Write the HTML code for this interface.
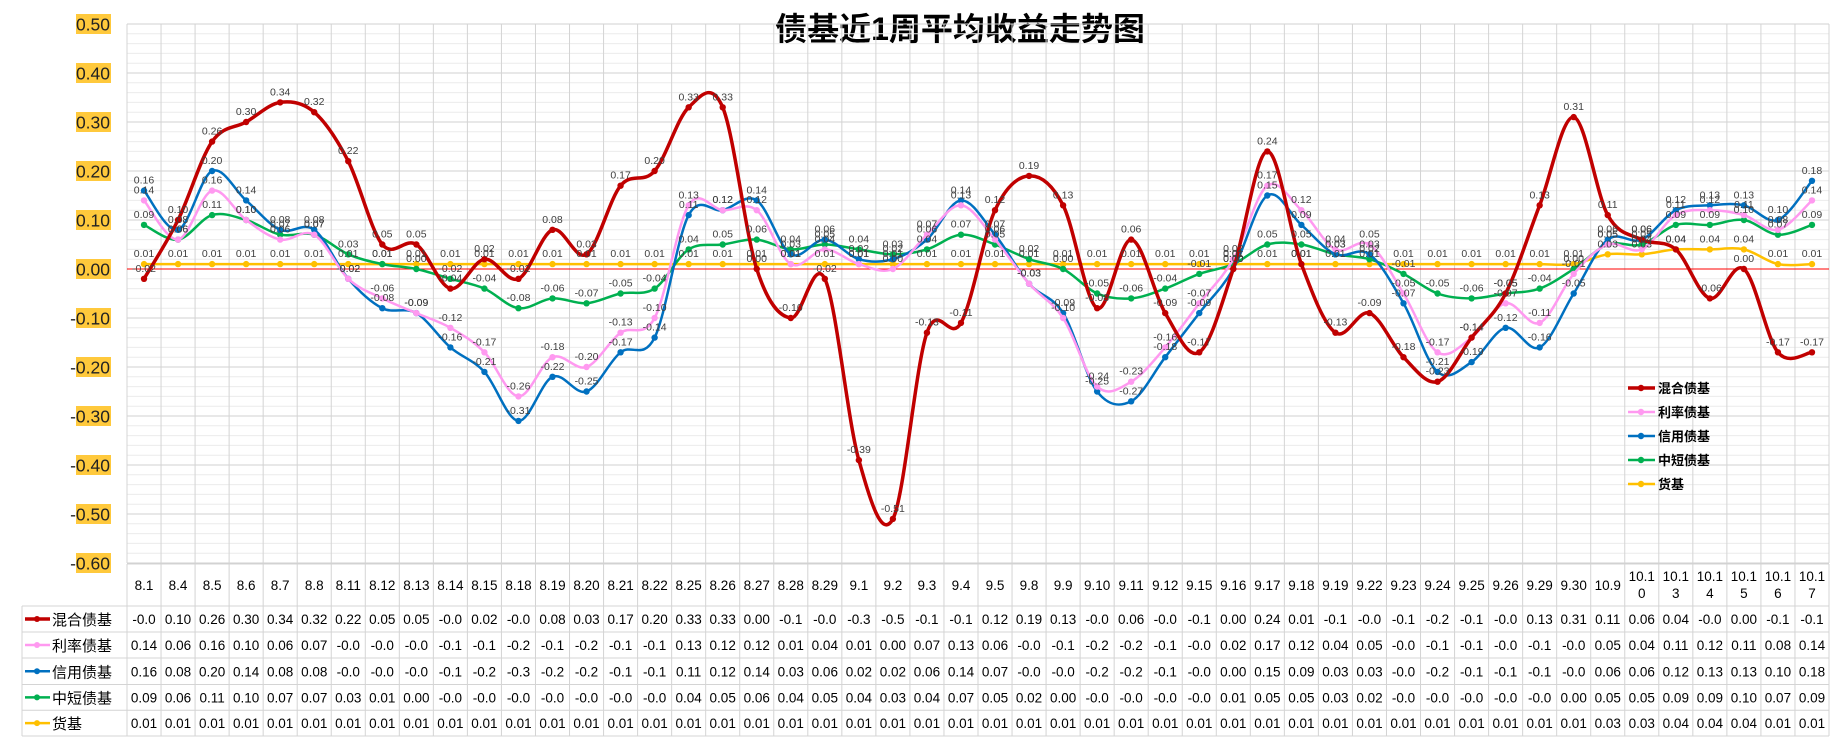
<!DOCTYPE html>
<html><head><meta charset="utf-8">
<style>
body{margin:0;background:#fff;}
svg{display:block;font-family:"Liberation Sans","Noto Sans CJK SC",sans-serif;}
</style></head>
<body>
<svg id="chart" width="1837" height="743" viewBox="0 0 1837 743" xmlns="http://www.w3.org/2000/svg">
<rect width="1837" height="743" fill="#fff"/>
<text x="960" y="40" text-anchor="middle" font-size="32" font-weight="bold" fill="#000" font-family="'Liberation Sans','Noto Sans CJK SC',sans-serif">债基近1周平均收益走势图</text>
<g id="grid"></g><g id="yaxis"></g><g id="series"></g><g id="labels"></g><g id="legend"></g><g id="table"></g>
</svg>
<script>
const categories=["8.1","8.4","8.5","8.6","8.7","8.8","8.11","8.12","8.13","8.14","8.15","8.18","8.19","8.20","8.21","8.22","8.25","8.26","8.27","8.28","8.29","9.1","9.2","9.3","9.4","9.5","9.8","9.9","9.10","9.11","9.12","9.15","9.16","9.17","9.18","9.19","9.22","9.23","9.24","9.25","9.26","9.29","9.30","10.9","10.10","10.13","10.14","10.15","10.16","10.17"];
const seriesNames=["混合债基","利率债基","信用债基","中短债基","货基"];
const mixedVals=[-0.02,0.10,0.26,0.30,0.34,0.32,0.22,0.05,0.05,-0.04,0.02,-0.02,0.08,0.03,0.17,0.20,0.33,0.33,0.00,-0.10,-0.02,-0.39,-0.51,-0.13,-0.11,0.12,0.19,0.13,-0.08,0.06,-0.09,-0.17,0.00,0.24,0.01,-0.13,-0.09,-0.18,-0.23,-0.14,-0.05,0.13,0.31,0.11,0.06,0.04,-0.06,0.00,-0.17,-0.17];
const rateVals=[0.14,0.06,0.16,0.10,0.06,0.07,-0.02,-0.06,-0.09,-0.12,-0.17,-0.26,-0.18,-0.20,-0.13,-0.10,0.13,0.12,0.12,0.01,0.04,0.01,0.00,0.07,0.13,0.06,-0.03,-0.10,-0.24,-0.23,-0.16,-0.07,0.02,0.17,0.12,0.04,0.05,-0.05,-0.17,-0.14,-0.07,-0.11,-0.01,0.05,0.04,0.11,0.12,0.11,0.08,0.14];
const creditVals=[0.16,0.08,0.20,0.14,0.08,0.08,-0.02,-0.08,-0.09,-0.16,-0.21,-0.31,-0.22,-0.25,-0.17,-0.14,0.11,0.12,0.14,0.03,0.06,0.02,0.02,0.06,0.14,0.07,-0.03,-0.09,-0.25,-0.27,-0.18,-0.09,0.00,0.15,0.09,0.03,0.03,-0.07,-0.21,-0.19,-0.12,-0.16,-0.05,0.06,0.06,0.12,0.13,0.13,0.10,0.18];
const shortVals=[0.09,0.06,0.11,0.10,0.07,0.07,0.03,0.01,0.00,-0.02,-0.04,-0.08,-0.06,-0.07,-0.05,-0.04,0.04,0.05,0.06,0.04,0.05,0.04,0.03,0.04,0.07,0.05,0.02,0.00,-0.05,-0.06,-0.04,-0.01,0.01,0.05,0.05,0.03,0.02,-0.01,-0.05,-0.06,-0.05,-0.04,0.00,0.05,0.05,0.09,0.09,0.10,0.07,0.09];
const moneyVals=[0.01,0.01,0.01,0.01,0.01,0.01,0.01,0.01,0.01,0.01,0.01,0.01,0.01,0.01,0.01,0.01,0.01,0.01,0.01,0.01,0.01,0.01,0.01,0.01,0.01,0.01,0.01,0.01,0.01,0.01,0.01,0.01,0.01,0.01,0.01,0.01,0.01,0.01,0.01,0.01,0.01,0.01,0.01,0.03,0.03,0.04,0.04,0.04,0.01,0.01];
const yTicks=[0.5,0.4,0.3,0.2,0.1,0,-0.1,-0.2,-0.3,-0.4,-0.5,-0.6];

const NS="http://www.w3.org/2000/svg";
const X0=127,CW=34.04,Y0=269,PPU=490,YTOP=24,YBOT=563;
const xOf=i=>X0+CW*(i+0.5);
const yOf=v=>Y0-v*PPU;
function mk(tag,attrs,parent,txt){const e=document.createElementNS(NS,tag);for(const k in attrs)e.setAttribute(k,attrs[k]);if(txt!==undefined)e.textContent=txt;parent.appendChild(e);return e;}
const grid=document.getElementById('grid');
for(let k=0;k<=55;k++){const v=0.5-k*0.02;const y=yOf(v);
 const major=k%5===0;
 mk('line',{x1:X0,x2:1829,y1:y,y2:y,stroke:major?'#d0d0d0':'#ececec','stroke-width':1},grid);}
for(let i=0;i<=categories.length;i++){const x=X0+CW*i;mk('line',{x1:x,x2:x,y1:YTOP,y2:YBOT,stroke:'#d4d4d4','stroke-width':1},grid);}
const zl=mk('line',{x1:X0,x2:1829,y1:Y0,y2:Y0,stroke:'#ff0000','stroke-width':1},grid);


const ya=document.getElementById('yaxis');
yTicks.forEach(v=>{const y=yOf(v);
 mk('rect',{x:76,y:y-10,width:35,height:20,fill:'#ffc93c'},ya);
 const t=mk('text',{x:110,y:y+6.5,'text-anchor':'end','font-size':17.5,fill:'#222'},ya,v.toFixed(2));
 
 });
const series=[
 {name:seriesNames[0],vals:mixedVals,color:'#c00000',w:3.5,key:'mixed'},
 {name:seriesNames[1],vals:rateVals,color:'#ff99f0',w:2.5,key:'rate'},
 {name:seriesNames[2],vals:creditVals,color:'#0070c0',w:2.5,key:'credit'},
 {name:seriesNames[3],vals:shortVals,color:'#00b050',w:2.5,key:'short'},
 {name:seriesNames[4],vals:moneyVals,color:'#ffc000',w:2.5,key:'money'}];
const sg=document.getElementById('series'),lg=document.getElementById('labels');
function smooth(pts){let d=`M${pts[0][0]},${pts[0][1]}`;
 for(let i=0;i<pts.length-1;i++){const p0=pts[i-1]||pts[i],p1=pts[i],p2=pts[i+1],p3=pts[i+2]||p2;
  const c1=[p1[0]+(p2[0]-p0[0])/6,p1[1]+(p2[1]-p0[1])/6],c2=[p2[0]-(p3[0]-p1[0])/6,p2[1]-(p3[1]-p1[1])/6];
  d+=` C${c1[0]},${c1[1]} ${c2[0]},${c2[1]} ${p2[0]},${p2[1]}`;}return d;}
series.slice().reverse().forEach(s=>{
 const g=mk('g',{},sg);
 
 
 const pts=s.vals.map((v,i)=>[xOf(i),yOf(v)]);
 const p=mk('path',{d:smooth(pts),fill:'none',stroke:s.color,'stroke-width':s.w},g);
 
 
 pts.forEach(q=>{const c=mk('circle',{cx:q[0],cy:q[1],r:3.2,fill:s.color},g);
  
  });
 s.vals.forEach((v,i)=>{const t=mk('text',{x:xOf(i),y:yOf(v)-7,'text-anchor':'middle','font-size':10.5,fill:'#404040'},lg,v.toFixed(2));
  
  });
});
const leg=document.getElementById('legend');
series.forEach((s,k)=>{const y=388+k*24;
 const g=mk('g',{},leg);
 
 
 mk('line',{x1:1628,x2:1655,y1:y,y2:y,stroke:s.color,'stroke-width':s.w},g);
 mk('circle',{cx:1641,cy:y,r:3.2,fill:s.color},g);
 mk('text',{x:1658,y:y+5,'font-size':13,'font-weight':'bold',fill:'#000'},g,s.name);});
const tb=document.getElementById('table');
const rows=[564,606,632,658,684.5,710.3,736];
const TL=22;
function fmt(v){if(v<0){return '-'+(Math.floor(Math.abs(v)*10+1e-9)/10).toFixed(1);}return v.toFixed(2);}
for(let r=0;r<rows.length;r++){const x1=r===0?X0:TL;mk('line',{x1:x1,x2:1829,y1:rows[r],y2:rows[r],stroke:'#d4d4d4'},tb);}
mk('line',{x1:TL,x2:TL,y1:rows[1],y2:rows[6],stroke:'#d4d4d4'},tb);
for(let i=0;i<=categories.length;i++){const x=X0+CW*i;mk('line',{x1:x,x2:x,y1:rows[0],y2:rows[6],stroke:'#d4d4d4'},tb);}
categories.forEach((c,i)=>{const x=xOf(i);
 let t;
 if(c.length>4){t=mk('text',{x:x,y:581,'text-anchor':'middle','font-size':13.5,fill:'#000'},tb);
  mk('tspan',{x:x},t,c.slice(0,4));mk('tspan',{x:x,dy:17},t,c.slice(4));}
 else t=mk('text',{x:x,y:590,'text-anchor':'middle','font-size':13.5,fill:'#000'},tb,c);
 
 });
series.forEach((s,k)=>{const yc=(rows[k+1]+rows[k+2])/2+5;
 const g=mk('g',{},tb);
 
 
 mk('line',{x1:25,x2:50,y1:yc-5,y2:yc-5,stroke:s.color,'stroke-width':s.w},g);
 mk('circle',{cx:37,cy:yc-5,r:3,fill:s.color},g);
 mk('text',{x:52,y:yc+1,'font-size':15,fill:'#000'},g,s.name);
 s.vals.forEach((v,i)=>mk('text',{x:xOf(i),y:yc,'text-anchor':'middle','font-size':13.5,fill:'#000'},g,fmt(v)));
});
</script>
</body></html>
